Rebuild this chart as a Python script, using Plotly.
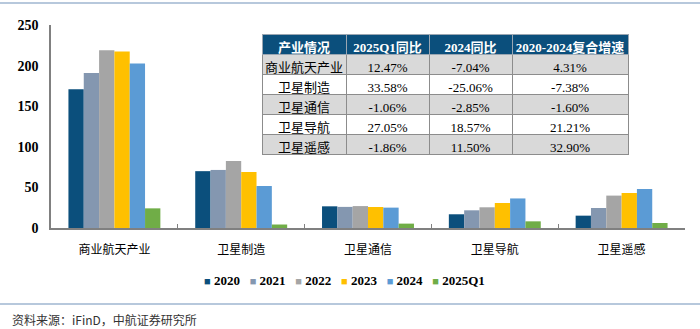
import plotly.graph_objects as go

categories = ["商业航天产业", "卫星制造", "卫星通信", "卫星导航", "卫星遥感"]
series_names = ["2020", "2021", "2022", "2023", "2024", "2025Q1"]
v2020 = [171, 70, 26.7, 16.9, 15.2]
v2021 = [191, 71.5, 26.0, 21.8, 24.6]
v2022 = [219, 82.5, 27.0, 25.5, 39.9]
v2023 = [217.5, 69, 25.9, 30.8, 43.1]
v2024 = [202.5, 51.7, 25.1, 36.4, 48.0]
v2025q1 = [24.2, 4.3, 5.4, 8.2, 6.2]
colors = ["#0b4f7c", "#8497b0", "#a5a5a5", "#ffc000", "#5b9bd5", "#70ad47"]

table_header = ["产业情况", "2025Q1同比", "2024同比", "2020-2024复合增速"]
table_industry = ["商业航天产业", "卫星制造", "卫星通信", "卫星导航", "卫星遥感"]
table_q1 = ["12.47%", "33.58%", "-1.06%", "27.05%", "-1.86%"]
table_2024 = ["-7.04%", "-25.06%", "-2.85%", "18.57%", "11.50%"]
table_cagr = ["4.31%", "-7.38%", "-1.60%", "21.21%", "32.90%"]

serif = "Liberation Serif, Times New Roman, Noto Sans CJK SC"
cjk = "Noto Sans CJK SC"

W, H = 700, 329
L, R, T, B = 51, 15, 25, 101
pw, ph = W - L - R, H - T - B

def px_x(x):
    return (x - L) / pw

def px_y(y):
    return (H - B - y) / ph

fig = go.Figure()
for name, vals, c in zip(series_names, [v2020, v2021, v2022, v2023, v2024, v2025q1], colors):
    fig.add_trace(go.Bar(x=categories, y=vals, name=name, marker=dict(color=c, line=dict(width=0))))

row_fill = ["#d9d9d9", "#ffffff", "#d9d9d9", "#ffffff", "#d9d9d9"]
fig.add_trace(go.Table(
    domain=dict(x=[px_x(262), px_x(628)], y=[px_y(160), px_y(34)]),
    columnwidth=[84, 83, 83, 116],
    header=dict(values=table_header, fill_color="#0b4f7c",
                line=dict(color="#9aa6b2", width=1),
                font=dict(family=serif, size=13, color="white", weight="bold"),
                align="center", height=20),
    cells=dict(values=[table_industry, table_q1, table_2024, table_cagr],
               fill_color=[row_fill] * 4,
               line=dict(color="#8c8c8c", width=1),
               font=dict(family=serif, size=13, color="black"),
               align="center", height=20),
))

legend_text = "&nbsp;&nbsp;&nbsp;".join(
    f"<span style='color:{c};font-size:11px'>■</span> {n}" for n, c in zip(series_names, colors)
)

fig.update_layout(
    width=W, height=H,
    margin=dict(l=L, r=R, t=T, b=B),
    paper_bgcolor="white", plot_bgcolor="white",
    barmode="group", bargap=0.275, bargroupgap=0,
    showlegend=False,
    xaxis=dict(showline=True, linecolor="#808080", linewidth=1.5,
               tickson="boundaries", ticks="inside", ticklen=4, tickcolor="#808080",
               tickfont=dict(family=cjk, size=12, color="black"),
               ticklabelstandoff=10, showgrid=False),
    yaxis=dict(range=[0, 250], dtick=50, showline=True, linecolor="#808080", linewidth=1.5,
               ticks="", showgrid=False, zeroline=False,
               tickfont=dict(family=serif, size=14, color="black", weight="bold"),
               ticklabelstandoff=8),
    shapes=[
        dict(type="line", xref="paper", yref="paper", x0=px_x(0), x1=px_x(700), y0=px_y(3), y1=px_y(3),
             line=dict(color="#9fb6d0", width=1.5)),
        dict(type="line", xref="paper", yref="paper", x0=px_x(0), x1=px_x(700), y0=px_y(304), y1=px_y(304),
             line=dict(color="#9fb6d0", width=1.5)),
    ],
    annotations=[
        dict(text=legend_text, xref="paper", yref="paper",
             x=px_x(344), y=px_y(280), xanchor="center", yanchor="middle", showarrow=False,
             font=dict(family=serif, size=13, color="black", weight="bold")),
        dict(text="资料来源：iFinD，中航证券研究所", xref="paper", yref="paper",
             x=px_x(10), y=px_y(319), xanchor="left", yanchor="middle", showarrow=False,
             font=dict(family="Noto Sans CJK SC", size=12, color="#333333")),
    ],
)

fig.write_html("out.html")
